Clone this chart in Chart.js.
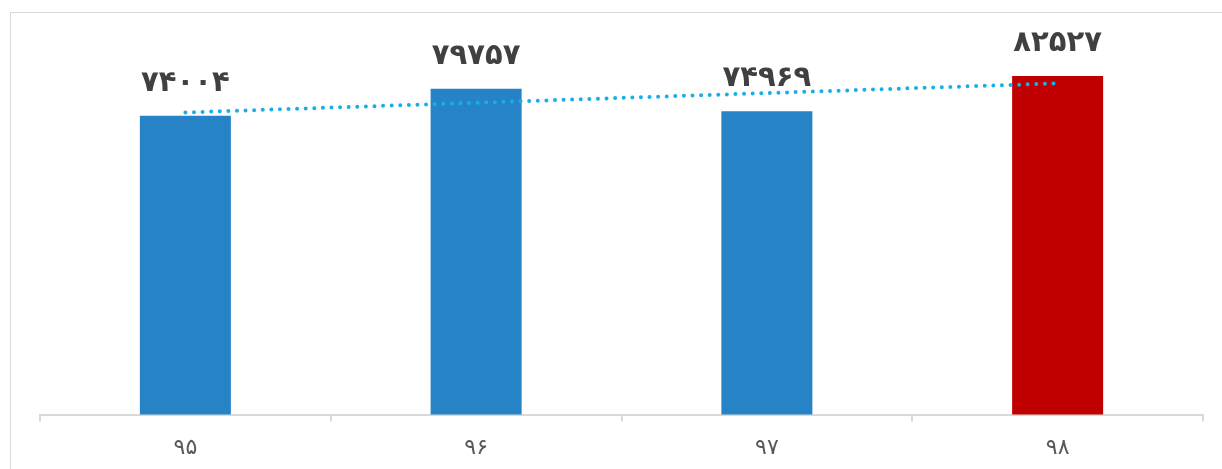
<!DOCTYPE html>
<html>
<head>
<meta charset="utf-8">
<script src="https://cdn.jsdelivr.net/npm/chart.js@4/dist/chart.umd.min.js"></script>
<style>
  html, body { margin: 0; padding: 0; background: #ffffff; overflow: hidden; }
  #wrap { position: relative; width: 1222px; height: 469px; overflow: hidden; }
  #frame { position: absolute; left: 10px; top: 12px; width: 1300px; height: 600px;
           border: 1.5px solid #d9d9d9; box-sizing: border-box; pointer-events: none; }
  canvas { position: absolute; left: 0; top: 0; }
</style>
</head>
<body>
<div id="wrap">
  <div id="frame"></div>
  <canvas id="c" width="1222" height="483"></canvas>
</div>
<script>
// Data
const categories = ['۹۵', '۹۶', '۹۷', '۹۸'];
const values = [74004, 79757, 74969, 82527];
// Linear trend line end points
const trendValues = [74700, null, null, 80930];
const yMin = 10000;
const yMax = 90000;

const barColors = ['#2683c6', '#2683c6', '#2683c6', '#c00000'];

function toPersianDigits(n) {
  const d = '۰۱۲۳۴۵۶۷۸۹';
  return String(n).replace(/[0-9]/g, ch => d[+ch]);
}

const labelPlugin = {
  id: 'barLabels',
  afterDatasetsDraw(chart) {
    const ctx = chart.ctx;
    const meta = chart.getDatasetMeta(0);
    ctx.save();
    ctx.font = 'bold 29px "DejaVu Sans"';
    ctx.fillStyle = '#404040';
    ctx.textAlign = 'center';
    ctx.textBaseline = 'bottom';
    meta.data.forEach((bar, i) => {
      ctx.fillText(toPersianDigits(values[i]), bar.x, bar.y - 18);
    });
    ctx.restore();
  }
};

new Chart(document.getElementById('c'), {
  data: {
    labels: categories,
    datasets: [
      {
        type: 'bar',
        data: values,
        backgroundColor: barColors,
        borderWidth: 0,
        categoryPercentage: 1,
        barPercentage: 0.313,
        order: 2
      },
      {
        type: 'line',
        data: trendValues,
        spanGaps: true,
        borderColor: '#1aaee6',
        borderWidth: 4,
        borderDash: [0, 8.6],
        borderCapStyle: 'round',
        pointRadius: 0,
        fill: false,
        tension: 0,
        order: 1
      }
    ]
  },
  options: {
    responsive: false,
    devicePixelRatio: 1,
    animation: false,
    layout: { padding: { left: 40, right: 19, top: 41, bottom: 9 } },
    plugins: { legend: { display: false }, tooltip: { enabled: false } },
    scales: {
      x: {
        offset: true,
        grid: {
          display: true,
          offset: true,
          drawOnChartArea: false,
          drawTicks: true,
          tickLength: 7,
          color: '#d9d9d9',
          lineWidth: 2
        },
        border: { display: true, color: '#d9d9d9', width: 2 },
        ticks: {
          padding: 13,
          color: '#595959',
          font: { family: 'DejaVu Sans', size: 22 }
        }
      },
      y: {
        display: false,
        min: yMin,
        max: yMax
      }
    }
  },
  plugins: [labelPlugin]
});
</script>
</body>
</html>
